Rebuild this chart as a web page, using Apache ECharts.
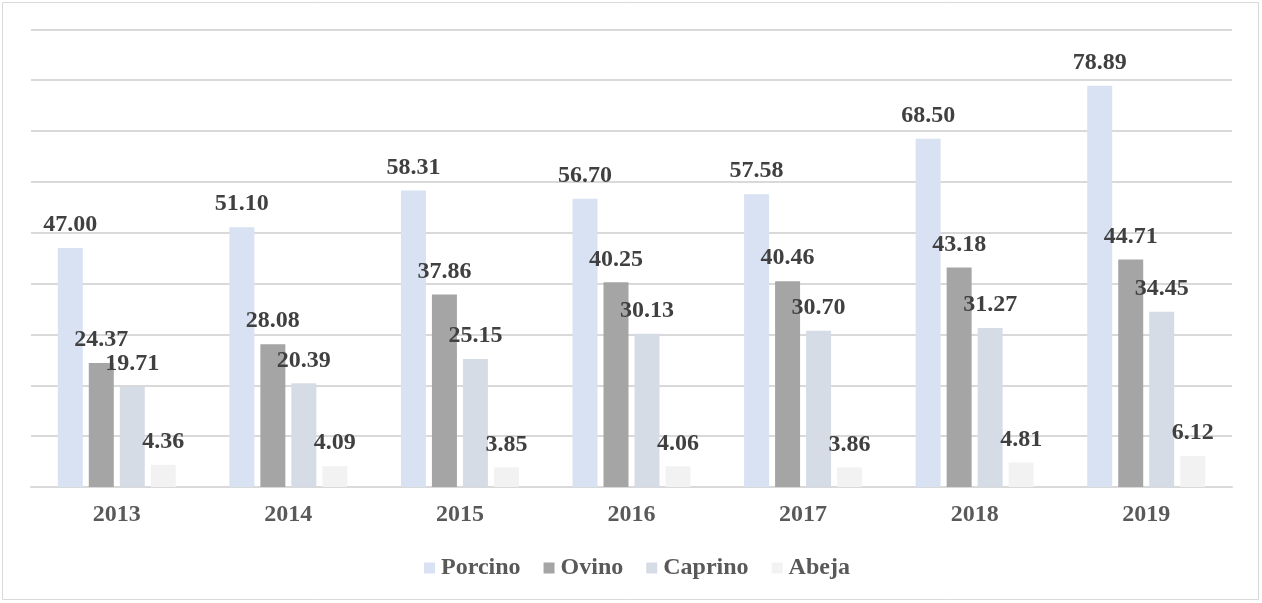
<!DOCTYPE html>
<html>
<head>
<meta charset="utf-8">
<script src="https://cdn.jsdelivr.net/npm/echarts@6/dist/echarts.min.js"></script>
<style>
  html, body { margin: 0; padding: 0; background: #fff; }
  #chart-container { width: 1262px; height: 603px; }
</style>
</head>
<body>
<div id="chart-container"></div>
<script>
var years = ['2013', '2014', '2015', '2016', '2017', '2018', '2019'];
var porcino = [47.00, 51.10, 58.31, 56.70, 57.58, 68.50, 78.89];
var ovino = [24.37, 28.08, 37.86, 40.25, 40.46, 43.18, 44.71];
var caprino = [19.71, 20.39, 25.15, 30.13, 30.70, 31.27, 34.45];
var abeja = [4.36, 4.09, 3.85, 4.06, 3.86, 4.81, 6.12];

var dom = document.getElementById('chart-container');
var myChart = echarts.init(dom, null, { renderer: 'canvas' });

var fontFam = '"Liberation Serif", "Times New Roman", serif';

function makeSeries(name, data, color) {
  return {
    name: name,
    type: 'bar',
    data: data,
    barWidth: 25,
    barGap: '24%',
    itemStyle: { color: color },
    label: {
      show: true,
      position: 'top',
      distance: 11,
      color: '#404040',
      fontFamily: fontFam,
      fontWeight: 'bold',
      fontSize: 24,
      formatter: function (p) { return p.value.toFixed(2); }
    }
  };
}

var option = {
  animation: false,
  textStyle: { fontFamily: fontFam },
  graphic: [{
    type: 'rect',
    shape: { x: 2.5, y: 2.5, width: 1256, height: 597 },
    style: { fill: 'none', stroke: '#d9d9d9', lineWidth: 1 },
    silent: true
  }],
  grid: { left: 31, right: 30, top: 29.3, bottom: 116 },
  legend: {
    bottom: 18,
    left: 419,
    itemWidth: 11,
    itemHeight: 11,
    itemGap: 23,
    icon: 'rect',
    textStyle: { color: '#595959', fontFamily: fontFam, fontWeight: 'bold', fontSize: 24, padding: [0, 0, 0, 1] },
    data: ['Porcino', 'Ovino', 'Caprino', 'Abeja']
  },
  xAxis: {
    type: 'category',
    data: years,
    axisLine: { lineStyle: { color: '#d9d9d9', width: 2 } },
    axisTick: { show: false },
    axisLabel: { color: '#595959', fontFamily: fontFam, fontWeight: 'bold', fontSize: 24, margin: 16 }
  },
  yAxis: {
    type: 'value',
    min: 0,
    max: 90,
    interval: 10,
    axisLabel: { show: false },
    axisLine: { show: false },
    axisTick: { show: false },
    splitLine: { lineStyle: { color: '#d9d9d9', width: 2 } }
  },
  series: [
    makeSeries('Porcino', porcino, '#d9e2f3'),
    makeSeries('Ovino', ovino, '#a5a5a5'),
    makeSeries('Caprino', caprino, '#d6dce5'),
    makeSeries('Abeja', abeja, '#f2f2f2')
  ]
};

myChart.setOption(option);
window.addEventListener('resize', myChart.resize);
</script>
</body>
</html>
